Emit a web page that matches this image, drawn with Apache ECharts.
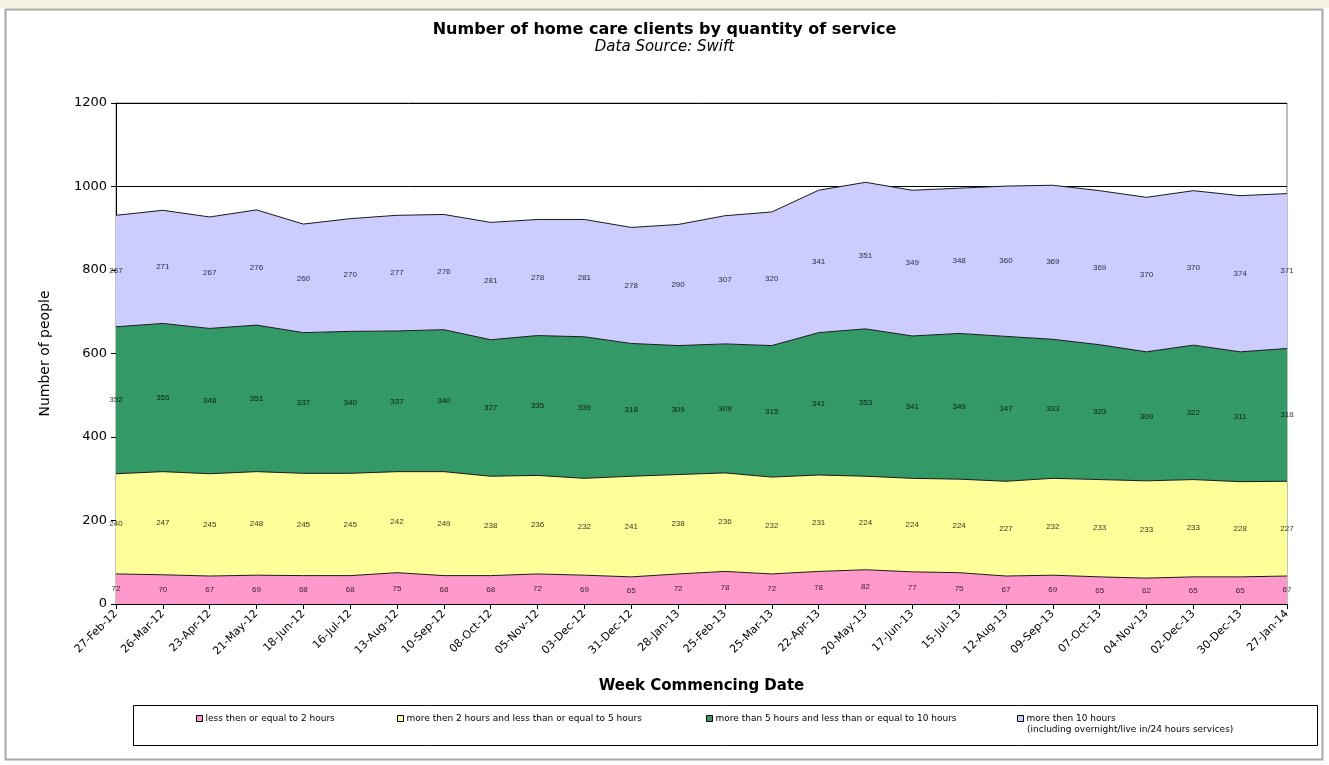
<!DOCTYPE html>
<html>
<head>
<meta charset="utf-8">
<script src="https://cdn.jsdelivr.net/npm/echarts@6/dist/echarts.min.js"></script>
<style>html,body{margin:0;padding:0;background:#fff}#c{width:1329px;height:765px}</style>
</head>
<body>
<div id="c"></div>
<script>
const categories = ['27-Feb-12','26-Mar-12','23-Apr-12','21-May-12','18-Jun-12','16-Jul-12','13-Aug-12','10-Sep-12','08-Oct-12','05-Nov-12','03-Dec-12','31-Dec-12','28-Jan-13','25-Feb-13','25-Mar-13','22-Apr-13','20-May-13','17-Jun-13','15-Jul-13','12-Aug-13','09-Sep-13','07-Oct-13','04-Nov-13','02-Dec-13','30-Dec-13','27-Jan-14'];
const upTo2 = [72,70,67,69,68,68,75,68,68,72,69,65,72,78,72,78,82,77,75,67,69,65,62,65,65,67];
const from2to5 = [240,247,245,248,245,245,242,249,238,236,232,241,238,236,232,231,224,224,224,227,232,233,233,233,228,227];
const from5to10 = [352,355,348,351,337,340,337,340,327,335,339,318,309,309,315,341,353,341,349,347,333,323,309,322,311,318];
const over10 = [267,271,267,276,260,270,277,276,281,278,281,278,290,307,320,341,351,349,348,360,369,369,370,370,374,371];
const yTicks = [0,200,400,600,800,1000,1200];
const names = ['less then or equal to 2 hours','more then 2 hours and less than or equal to 5 hours','more than 5 hours and less than or equal to 10 hours','more then 10 hours'];
const colors = ['#FF99CC','#FFFF99','#339966','#CCCCFF'];
const seriesData = [upTo2, from2to5, from5to10, over10];

const FONT = '"DejaVu Sans", Arial, sans-serif';
const SMALL = '"Liberation Sans", Arial, sans-serif';
const chart = echarts.init(document.getElementById('c'), null, {renderer:'canvas'});

const series = [];
seriesData.forEach((d, k) => {
  series.push({
    name: names[k], type: 'line', stack: 'total', data: d, symbol: 'none',
    lineStyle: {color: '#1a1a1a', width: 1},
    areaStyle: {color: colors[k], opacity: 1},
    itemStyle: {color: colors[k]},
    z: 2
  });
});
// label series at band middles
seriesData.forEach((d, k) => {
  const pts = d.map((v, i) => {
    let below = 0;
    for (let j = 0; j < k; j++) below += seriesData[j][i];
    return {value: [i, below + v / 2], lab: v};
  });
  series.push({
    type: 'scatter', data: pts, symbolSize: 0, silent: true, z: 5,
    label: {show: true, position: 'inside', color: '#000', fontSize: 8, fontFamily: SMALL,
      formatter: p => p.data.lab}
  });
});

const legendPos = [196, 397, 706, 1017];
const legends = names.map((n, k) => ({
  data: [n], left: legendPos[k], top: 714, orient: 'horizontal',
  icon: 'rect', itemWidth: 6, itemHeight: 6, itemGap: 2, padding: 0,
  itemStyle: {borderColor: '#000', borderWidth: 1},
  textStyle: {fontSize: 9, fontFamily: FONT, color: '#000', padding: [0,0,0,-2]},
  selectedMode: false
}));

chart.setOption({
  animation: false,
  backgroundColor: '#fff',
  title: {
    text: 'Number of home care clients by quantity of service',
    subtext: 'Data Source: Swift',
    left: 'center', top: 17, itemGap: 2,
    textStyle: {fontSize: 16, fontWeight: 'bold', fontFamily: FONT, color: '#000'},
    subtextStyle: {fontSize: 15, fontStyle: 'italic', fontFamily: FONT, color: '#000'}
  },
  legend: legends,
  grid: {left: 116, right: 42, top: 103, bottom: 161, show: true, borderColor: '#808080', borderWidth: 1, backgroundColor: 'transparent'},
  xAxis: {
    type: 'category', data: categories, boundaryGap: false,
    name: 'Week Commencing Date', nameLocation: 'middle', nameGap: 75,
    nameTextStyle: {fontSize: 15, fontWeight: 'bold', fontFamily: FONT, color: '#000'},
    axisLine: {lineStyle: {color: '#000'}},
    axisTick: {show: true, alignWithLabel: true, length: 5, lineStyle: {color: '#000'}},
    axisLabel: {rotate: 45, fontSize: 11, fontFamily: FONT, color: '#000', interval: 0, margin: 8},
    splitLine: {show: false}
  },
  yAxis: {
    type: 'value', min: 0, max: 1200, interval: 200,
    name: 'Number of people', nameLocation: 'middle', nameGap: 64,
    nameTextStyle: {fontSize: 14, fontFamily: FONT, color: '#000'},
    axisLine: {show: true, lineStyle: {color: '#000'}},
    axisTick: {show: true, length: 5, lineStyle: {color: '#000'}},
    axisLabel: {fontSize: 13, fontFamily: FONT, color: '#000', margin: 9,
      formatter: v => yTicks.indexOf(v) >= 0 ? String(v) : ''},
    splitLine: {show: true, lineStyle: {color: '#000', width: 1}}
  },
  graphic: [
    {type: 'rect', left: 0, top: 0, shape: {width: 1329, height: 8}, style: {fill: '#f4f1e2'}, silent: true, z: -10},
    {type: 'rect', shape: {x: 5.5, y: 9.5, width: 1317, height: 750}, style: {fill: 'none', stroke: '#a8a8a0', lineWidth: 2}, silent: true, z: -5},
    {type: 'rect', shape: {x: 133.5, y: 705.5, width: 1184, height: 40}, style: {fill: 'none', stroke: '#000', lineWidth: 1}, silent: true},
    {type: 'text', left: 1027, top: 725, style: {text: '(including overnight/live in/24 hours services)', fontSize: 9, fontFamily: FONT, fill: '#000'}, silent: true}
  ],
  series: series
});
</script>
</body>
</html>
